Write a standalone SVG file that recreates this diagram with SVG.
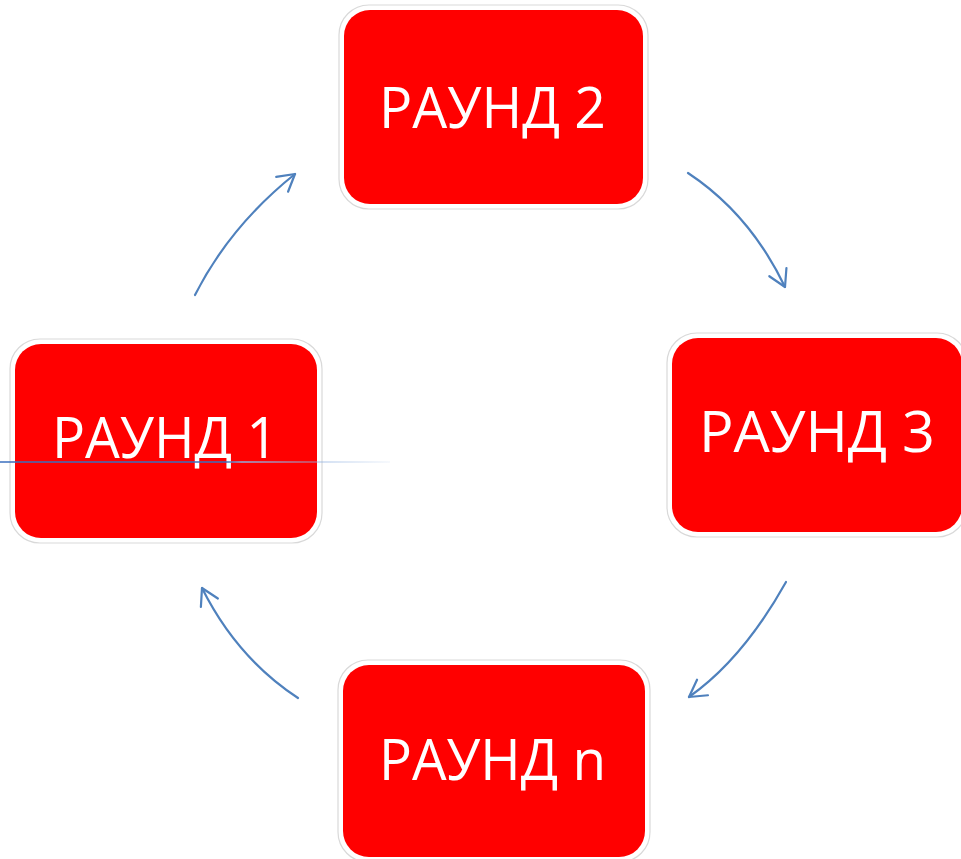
<svg xmlns="http://www.w3.org/2000/svg" width="961" height="859" viewBox="0 0 961 859">
<style>
.box{fill:#FF0000}
.rim{fill:#FFFFFF;stroke:#D9D9D9;stroke-width:1.2}
.lbl{font-family:"Open Sans","Liberation Sans",sans-serif;font-size:57px;fill:#FFFFFF;text-anchor:middle}
.conn{fill:none;stroke:#4F81BD;stroke-width:2.2;stroke-linecap:round}
</style>
<defs>
<marker id="arr" markerUnits="userSpaceOnUse" viewBox="-22 -14 26 28" refX="0" refY="0" markerWidth="26" markerHeight="28" orient="auto" overflow="visible">
<path d="M -16.5 -9.5 L 0 0 L -16.5 9.5" fill="none" stroke="#4F81BD" stroke-width="2.2" stroke-linecap="round" stroke-linejoin="round"/>
</marker>
<linearGradient id="lg" gradientUnits="userSpaceOnUse" x1="0" y1="0" x2="390" y2="0">
<stop offset="0" stop-color="#3A6FBE"/>
<stop offset="0.58" stop-color="#3A6FBE"/>
<stop offset="0.62" stop-color="#8FB0E0"/>
<stop offset="1" stop-color="#8FB0E0" stop-opacity="0.1"/>
</linearGradient>
</defs>
<rect width="961" height="859" fill="#FFFFFF"/>
<g id="connectors">
<path class="conn" d="M 195 295 Q 230 226 295 174" marker-end="url(#arr)"/>
<path class="conn" d="M 688 173 Q 750 214 785 287" marker-end="url(#arr)"/>
<path class="conn" d="M 786 582 Q 743 659 689 697" marker-end="url(#arr)"/>
<path class="conn" d="M 298 698 Q 237 658 202 588" marker-end="url(#arr)"/>
</g>
<g id="node-round2">
<rect class="rim" x="339" y="5" width="309" height="204" rx="30"/>
<rect class="box" x="344" y="10" width="299" height="194" rx="26"/>
<text class="lbl" x="492.5" y="128" textLength="227" lengthAdjust="spacingAndGlyphs">РАУНД 2</text>
</g>
<g id="node-round1">
<rect class="rim" x="10" y="339" width="312" height="204" rx="30"/>
<rect class="box" x="15" y="344" width="302" height="194" rx="26"/>
<text class="lbl" x="165" y="458" textLength="226" lengthAdjust="spacingAndGlyphs">РАУНД 1</text>
</g>
<g id="node-round3">
<rect class="rim" x="667" y="333" width="300" height="204" rx="30"/>
<rect class="box" x="672" y="338" width="290" height="194" rx="26"/>
<text class="lbl" x="817" y="452" textLength="236" lengthAdjust="spacingAndGlyphs">РАУНД 3</text>
</g>
<g id="node-roundn">
<rect class="rim" x="338" y="660" width="312" height="202" rx="30"/>
<rect class="box" x="343" y="665" width="302" height="192" rx="26"/>
<text class="lbl" x="492.5" y="780" textLength="227" lengthAdjust="spacingAndGlyphs">РАУНД n</text>
</g>
<line x1="0" y1="462" x2="390" y2="462" stroke="url(#lg)" stroke-width="1.4"/>
</svg>
